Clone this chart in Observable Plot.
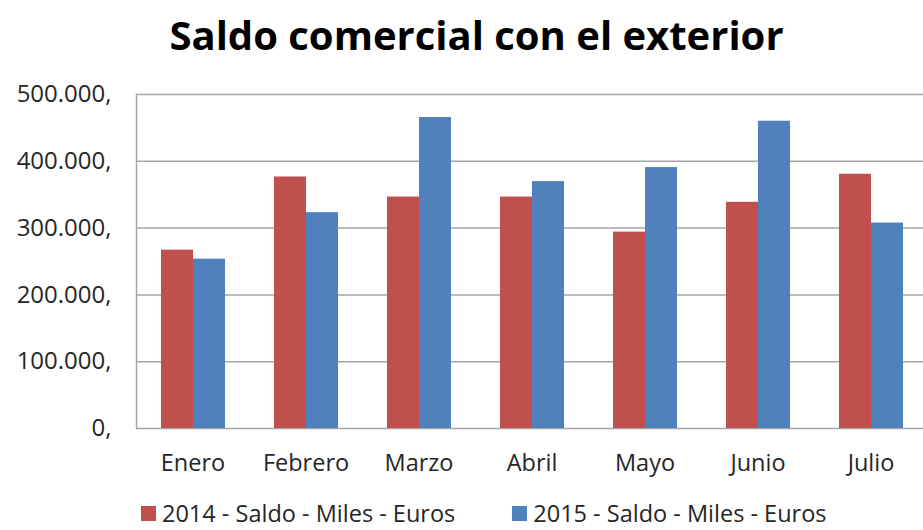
<!DOCTYPE html>
<html>
<head>
<meta charset="utf-8">
<script src="https://cdn.jsdelivr.net/npm/d3@7"></script>
<script src="https://cdn.jsdelivr.net/npm/@observablehq/plot@0.6"></script>
<style>
  html, body { margin: 0; padding: 0; background: #fff; width: 923px; height: 530px; overflow: hidden; }
  body { font-family: "Open Sans", sans-serif; color: #262626; }
  #title { height: 70px; line-height: 70px; font-weight: bold; font-size: 40px; text-align: center; padding-left: 30px; box-sizing: border-box; width: 923px; color: #000; }
  #chart { height: 410px; width: 923px; overflow: hidden; }
  #chart svg { max-width: none !important; }
  #legend { display: flex; align-items: center; padding-left: 141px; padding-top: 17px; gap: 57px; height: 32px; font-size: 23.5px; color: #262626; }
  .item { display: flex; align-items: center; }
  .sw { width: 15px; height: 15px; margin-right: 6px; }
</style>
</head>
<body>
<div id="title">Saldo comercial con el exterior</div>
<div id="chart"></div>
<div id="legend"></div>
<script>
const months = ["Enero", "Febrero", "Marzo", "Abril", "Mayo", "Junio", "Julio"];
const series = ["2014 - Saldo - Miles - Euros", "2015 - Saldo - Miles - Euros"];
const values2014 = [267000, 376500, 346500, 346500, 294000, 338600, 380600];
const values2015 = [253500, 323100, 465600, 369600, 390600, 460000, 307600];
const yTicks = [0, 100000, 200000, 300000, 400000, 500000];
const colors = ["#C0504D", "#4F81BD"];

const data = [];
months.forEach((m, i) => {
  data.push({month: m, series: series[0], value: values2014[i]});
  data.push({month: m, series: series[1], value: values2015[i]});
});

const fmt = d => d3.format(",")(d).replace(/,/g, ".") + ",";

const chart = Plot.plot({
  width: 930,
  height: 410,
  marginLeft: 133,
  marginRight: 0,
  marginTop: 24,
  marginBottom: 52,
  style: {fontFamily: "Open Sans, sans-serif", color: "#262626", background: "transparent", maxWidth: "none"},
  fx: {domain: months, padding: 0, label: null},
  x: {domain: series, paddingInner: 0, paddingOuter: 0.76, axis: null},
  y: {domain: [0, 500000], label: null},
  color: {domain: series, range: colors},
  marks: [
    Plot.gridY(yTicks, {stroke: "#a6a6a6", strokeOpacity: 1, strokeWidth: 1.5}),
    Plot.frame({anchor: "left", facetAnchor: "left", stroke: "#a6a6a6", strokeWidth: 1.5}),
    Plot.barY(data, {fx: "month", x: "series", y: "value", fill: "series"}),
    Plot.axisY(yTicks, {tickSize: 0, tickPadding: 25, tickFormat: fmt, fontSize: 24, label: null, fill: "#262626"}),
    Plot.axisFx({anchor: "bottom", tickSize: 0, tickPadding: 26, fontSize: 23.5, label: null, fill: "#262626"})
  ]
});
document.getElementById("chart").appendChild(chart);

const legend = document.getElementById("legend");
series.forEach((s, i) => {
  const item = document.createElement("div");
  item.className = "item";
  const sw = document.createElement("span");
  sw.className = "sw";
  sw.style.background = colors[i];
  const t = document.createElement("span");
  t.textContent = s;
  item.appendChild(sw);
  item.appendChild(t);
  legend.appendChild(item);
});
</script>
</body>
</html>
